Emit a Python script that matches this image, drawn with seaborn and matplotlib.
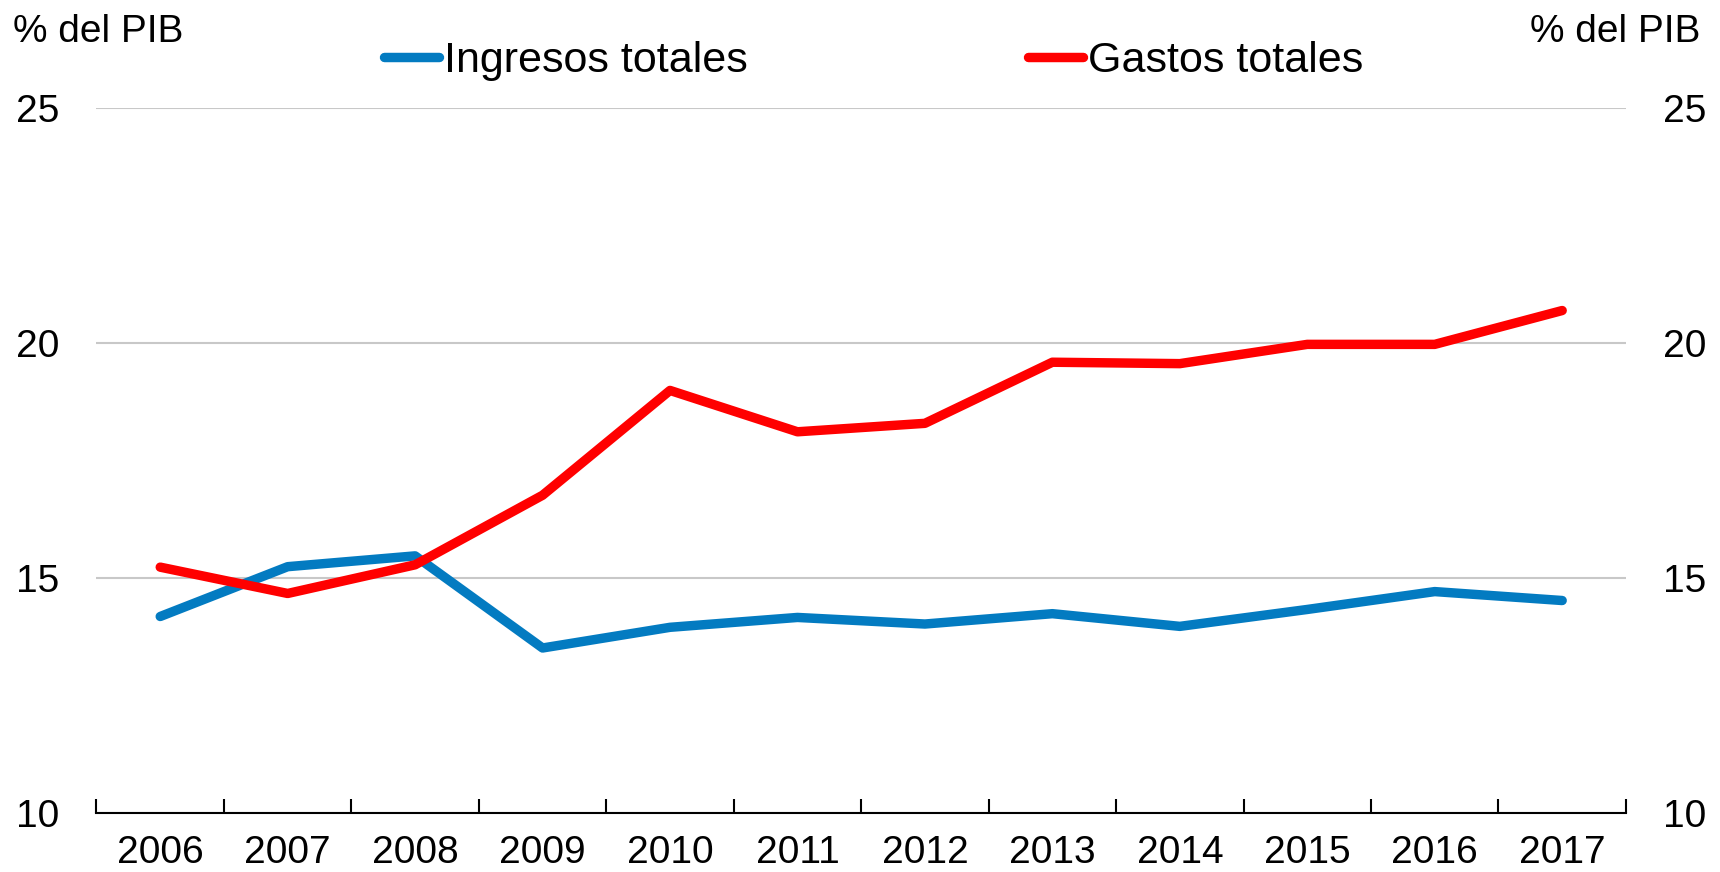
import matplotlib
matplotlib.use("Agg")
import matplotlib.pyplot as plt
from matplotlib import font_manager
import seaborn as sns
import pandas as pd

years = ["2006", "2007", "2008", "2009", "2010", "2011",
         "2012", "2013", "2014", "2015", "2016", "2017"]
ingresos = [14.18, 15.24, 15.47, 13.51, 13.95, 14.16, 14.02, 14.24, 13.97, 14.33, 14.71, 14.52]
gastos = [15.23, 14.67, 15.28, 16.76, 18.99, 18.11, 18.29, 19.59, 19.56, 19.97, 19.97, 20.69]
series_names = ["Ingresos totales", "Gastos totales"]
series_colors = ["#037BC1", "#FF0000"]
y_ticks = [10, 15, 20, 25]
unit_label = "% del PIB"

df = pd.DataFrame({
    "year": years * 2,
    "value": ingresos + gastos,
    "serie": [series_names[0]] * len(years) + [series_names[1]] * len(years),
})

sns.set_theme(style="white")
available = {f.name for f in font_manager.fontManager.ttflist}
if "Liberation Sans Narrow" in available:
    plt.rcParams["font.family"] = ["Liberation Sans Narrow", "DejaVu Sans"]
    tick_size, legend_size = 30, 34
else:
    plt.rcParams["font.family"] = ["Liberation Sans", "DejaVu Sans"]
    tick_size, legend_size = 28, 31
plt.rcParams["text.color"] = "black"

fig = plt.figure(figsize=(17.2, 8.72), dpi=100)
ax = fig.add_axes([0.0561, 0.0677, 0.8892, 0.8085])

sns.lineplot(data=df, x="year", y="value", hue="serie", palette=series_colors,
             linewidth=6.8, ax=ax, legend=False, sort=False)
for line in ax.lines:
    line.set_solid_capstyle("round")
    line.set_solid_joinstyle("round")

ax.set_xlim(-0.5, len(years) - 0.5)
ax.set_ylim(10, 25)
ax.set_yticks(y_ticks)
ax.yaxis.grid(True, color="#C8C8C8", linewidth=1.5)
ax.set_axisbelow(True)
ax.set_xlabel("")
ax.set_ylabel("")

for side in ["left", "right", "top"]:
    ax.spines[side].set_visible(False)
ax.spines["bottom"].set_color("black")
ax.spines["bottom"].set_linewidth(1.5)

ax.set_xticks(range(len(years)))
ax.set_xticklabels(years)
ax.set_xticks([i - 0.5 for i in range(len(years) + 1)], minor=True)
ax.tick_params(axis="x", which="major", length=0, pad=16, labelsize=tick_size, colors="black")
ax.tick_params(axis="x", which="minor", direction="in", length=10, width=1.5, color="black", bottom=True)
ax.tick_params(axis="y", length=0, pad=27, labelsize=tick_size, labelleft=True, labelright=True, colors="black")

fig.text(13 / 1720, 1 - 42 / 872, unit_label, fontsize=tick_size, ha="left", va="baseline", color="black")
fig.text(1700 / 1720, 1 - 42 / 872, unit_label, fontsize=tick_size, ha="right", va="baseline", color="black")

handles = [plt.Line2D([], [], color=c, linewidth=6.8, solid_capstyle="round") for c in series_colors]
leg = fig.legend(handles, series_names, loc="center left", bbox_to_anchor=(384 / 1720, 1 - 61 / 872), ncol=2,
                 frameon=False, fontsize=legend_size, handlelength=1.28, handletextpad=0.12,
                 columnspacing=6.5, borderpad=0, borderaxespad=0)
for t in leg.get_texts():
    t.set_color("black")

fig.savefig("out.png", dpi=100)
